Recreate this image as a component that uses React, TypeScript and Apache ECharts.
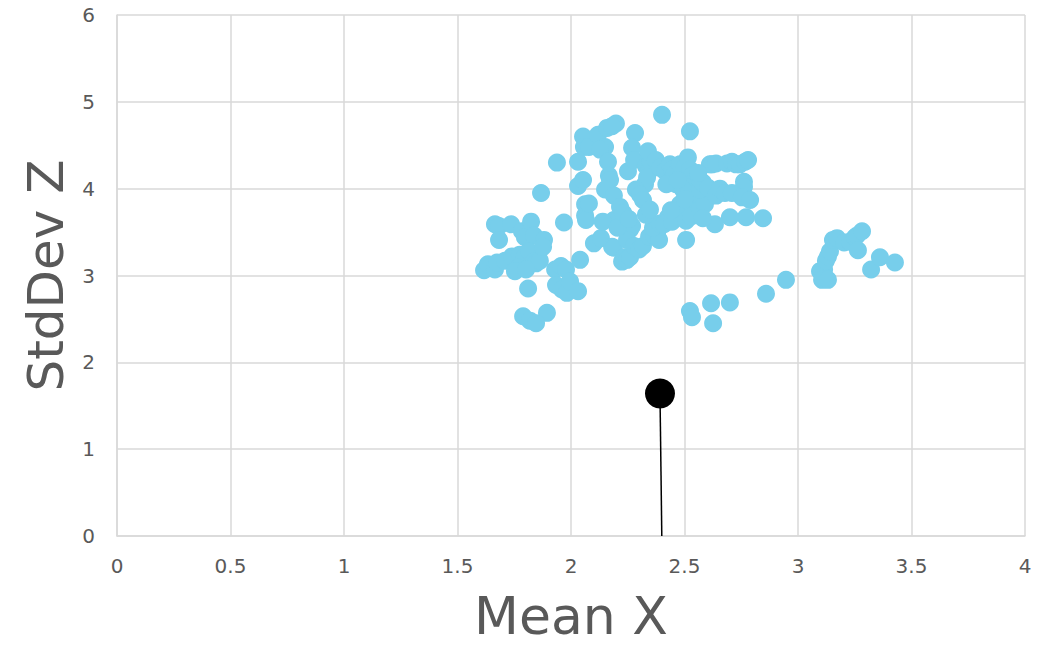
import React, { useEffect, useRef } from "react";
import * as echarts from "echarts";

const xTicks = [0, 0.5, 1, 1.5, 2, 2.5, 3, 3.5, 4];
const yTicks = [0, 1, 2, 3, 4, 5, 6];

const clusterPoints: [number, number][] = [
  [1.617, 3.06], [1.634, 3.13], [1.665, 3.59], [1.683, 3.57], [1.683, 3.41],
  [1.665, 3.07], [1.674, 3.15], [1.709, 3.17], [1.736, 3.59], [1.74, 3.22],
  [1.775, 3.24], [1.793, 3.2], [1.767, 3.09], [1.753, 3.05], [1.784, 3.51],
  [1.797, 3.44], [1.824, 3.62], [1.837, 3.46], [1.815, 3.28], [1.837, 3.16],
  [1.846, 3.14], [1.863, 3.17], [1.802, 3.07], [1.811, 2.85], [1.881, 3.41],
  [1.877, 3.33], [1.868, 3.95], [1.938, 4.3], [1.969, 3.61], [1.93, 3.07],
  [1.956, 3.11], [1.978, 3.07], [1.934, 2.89], [1.96, 2.84], [1.982, 2.8],
  [1.996, 2.93], [2.031, 2.82], [2.04, 3.18], [1.894, 2.57], [1.789, 2.53],
  [1.819, 2.48], [1.846, 2.45], [2.031, 4.31], [2.031, 4.03], [2.053, 4.1],
  [2.053, 4.6], [2.057, 4.48], [2.079, 4.48], [2.062, 3.82], [2.062, 3.69],
  [2.066, 3.64], [2.079, 3.83], [2.119, 4.62], [2.15, 4.48], [2.159, 4.7],
  [2.198, 4.75], [2.181, 4.72], [2.128, 4.45], [2.163, 4.31], [2.167, 4.15],
  [2.172, 4.1], [2.15, 3.99], [2.189, 3.92], [2.189, 3.64], [2.216, 3.79],
  [2.101, 3.37], [2.132, 3.43], [2.181, 3.33], [2.189, 3.32], [2.233, 3.21],
  [2.225, 3.16], [2.247, 3.18], [2.26, 3.21], [2.26, 3.53], [2.269, 3.57],
  [2.247, 3.41], [2.278, 3.34], [2.3, 3.3], [2.317, 3.34], [2.344, 3.45],
  [2.366, 3.46], [2.379, 3.49], [2.388, 3.41], [2.361, 3.55], [2.392, 3.6],
  [2.251, 4.2], [2.282, 4.64], [2.269, 4.47], [2.278, 4.33], [2.33, 4.26],
  [2.344, 4.2], [2.348, 4.33], [2.326, 4.05], [2.335, 4.13], [2.286, 3.99],
  [2.304, 3.93], [2.317, 3.87], [2.33, 3.7], [2.348, 3.76], [2.339, 4.43],
  [2.374, 4.33], [2.392, 4.24], [2.414, 4.2], [2.436, 4.28], [2.401, 4.85],
  [2.445, 4.22], [2.454, 4.16], [2.463, 4.05], [2.48, 4.28], [2.502, 4.25],
  [2.524, 4.66], [2.515, 4.36], [2.524, 4.22], [2.533, 4.15], [2.542, 4.08],
  [2.524, 4.01], [2.551, 3.9], [2.559, 3.99], [2.546, 3.82], [2.48, 3.82],
  [2.471, 3.7], [2.427, 3.67], [2.41, 3.59], [2.445, 3.62], [2.507, 3.63],
  [2.529, 3.68], [2.568, 3.76], [2.59, 3.82], [2.493, 3.99], [2.507, 3.41],
  [2.568, 3.99], [2.581, 4.07], [2.568, 4.1], [2.612, 4.28], [2.621, 4.28],
  [2.639, 4.29], [2.604, 4.01], [2.639, 3.92], [2.656, 4.0], [2.687, 4.29],
  [2.709, 4.31], [2.727, 4.28], [2.744, 4.28], [2.767, 4.31], [2.78, 4.33],
  [2.762, 4.08], [2.762, 4.02], [2.678, 3.95], [2.709, 3.95], [2.753, 3.9],
  [2.771, 3.67], [2.7, 3.67], [2.634, 3.59], [2.581, 3.66], [2.789, 3.87],
  [2.846, 3.66], [2.524, 2.59], [2.533, 2.52], [2.617, 2.68], [2.7, 2.69],
  [2.626, 2.45], [2.859, 2.79], [2.947, 2.95], [3.097, 3.05], [3.115, 3.07],
  [3.106, 2.95], [3.123, 3.17], [3.132, 3.22], [3.141, 3.28], [3.154, 3.41],
  [3.172, 3.43], [3.203, 3.38], [3.229, 3.39], [3.251, 3.44], [3.26, 3.46],
  [3.282, 3.51], [3.264, 3.29], [3.322, 3.07], [3.361, 3.21], [3.427, 3.15],
  [3.132, 2.95], [2.14, 3.62], [2.205, 3.55], [2.23, 3.72], [2.255, 3.65],
  [2.42, 4.05], [2.47, 4.1], [2.5, 3.88], [2.56, 4.18], [2.44, 3.75],
];

const markerPoint: [number, number] = [2.392, 1.64];
const stemLine: [number, number][] = [[2.392, 1.64], [2.4, 0]];

const FONT = "'DejaVu Sans', sans-serif";

export default function App() {
  const ref = useRef<HTMLDivElement>(null);
  useEffect(() => {
    if (!ref.current) return;
    const chart = echarts.init(ref.current, undefined, { renderer: "svg" });
    chart.setOption({
      animation: false,
      backgroundColor: "#ffffff",
      grid: { left: 117, right: 25, top: 15, bottom: 103, containLabel: false },
      xAxis: {
        type: "value",
        min: xTicks[0],
        max: xTicks[xTicks.length - 1],
        interval: 0.5,
        name: "Mean X",
        nameLocation: "middle",
        nameGap: 54,
        nameTextStyle: { fontSize: 52, color: "#595959", fontFamily: FONT },
        axisLine: { show: true, lineStyle: { color: "#d9d9d9", width: 1.5 } },
        axisTick: { show: false },
        splitLine: { show: true, lineStyle: { color: "#d9d9d9", width: 1.5 } },
        axisLabel: { fontSize: 20, color: "#595959", fontFamily: FONT, margin: 20 },
      },
      yAxis: {
        type: "value",
        min: yTicks[0],
        max: yTicks[yTicks.length - 1],
        interval: 1,
        name: "StdDev Z",
        nameLocation: "middle",
        nameGap: 45,
        nameTextStyle: { fontSize: 50, color: "#595959", fontFamily: FONT },
        axisLine: { show: true, lineStyle: { color: "#d9d9d9", width: 1.5 } },
        axisTick: { show: false },
        splitLine: { show: true, lineStyle: { color: "#d9d9d9", width: 1.5 } },
        axisLabel: { fontSize: 20, color: "#595959", fontFamily: FONT, margin: 22 },
      },
      series: [
        {
          type: "scatter",
          data: clusterPoints,
          symbolSize: 18,
          itemStyle: { color: "#77CEEB", opacity: 1 },
          z: 2,
        },
        {
          type: "line",
          data: stemLine,
          symbol: "none",
          lineStyle: { color: "#000000", width: 1.5 },
          z: 3,
        },
        {
          type: "scatter",
          data: [markerPoint],
          symbolSize: 30,
          itemStyle: { color: "#000000", opacity: 1 },
          z: 4,
        },
      ],
    });
    return () => chart.dispose();
  }, []);
  return (
    <div
      ref={ref}
      style={{ position: "absolute", left: 0, top: 0, width: 1050, height: 647 }}
    />
  );
}
